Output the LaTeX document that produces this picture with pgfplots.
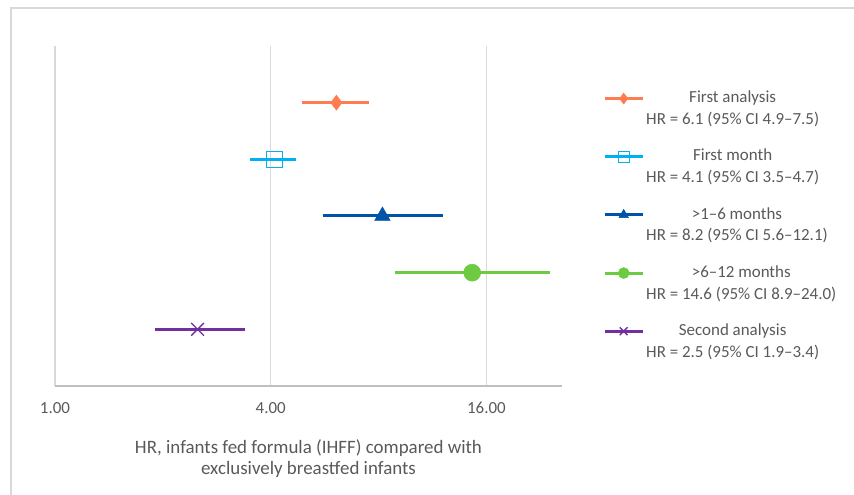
\documentclass[border=0pt]{standalone}
\usepackage{fontspec}
\setmainfont{Carlito}
\usepackage{pgfplots}
\pgfplotsset{compat=1.18}
\definecolor{txtgray}{HTML}{595959}
\definecolor{gridgray}{HTML}{D9D9D9}
\definecolor{axgray}{HTML}{BFBFBF}
\definecolor{framegray}{HTML}{D9D9D9}
\definecolor{corange}{HTML}{FF7C50}
\definecolor{clblue}{HTML}{00B0F0}
\definecolor{cdblue}{HTML}{0053A6}
\definecolor{cgreen}{HTML}{6CCB40}
\definecolor{cpurple}{HTML}{7030A0}
\begin{document}
\begin{tikzpicture}
\useasboundingbox (0bp,0bp) rectangle (854bp,495bp);
\draw[framegray, line width=1.2bp] (11bp,0bp) -- (11bp,487bp) -- (854bp,487bp);
\begin{axis}[
  at={(55bp,109bp)}, anchor=south west,
  scale only axis, width=507bp, height=340bp,
  xmode=log, log basis x=2,
  xmin=1, xmax=26, ymin=0, ymax=6,
  axis x line=bottom, axis y line=none,
  x axis line style={-, draw=axgray, line width=1.2bp},
  xtick={1,4,16}, xticklabels={1.00,4.00,16.00},
  xmajorgrids, major grid style={draw=gridgray, line width=1.2bp},
  major tick length=0pt, ytick=\empty,
  xticklabel style={font=\fontsize{17}{20}\selectfont, text=txtgray, anchor=center, yshift=-22bp},
  xlabel={HR, infants fed formula (IHFF) compared with\\exclusively breastfed infants},
  xlabel style={font=\fontsize{19}{21}\selectfont, text=txtgray, align=center, at={(axis description cs:0.5,0)}, anchor=north, yshift=-50bp},
  clip=false,
  legend cell align=left,
  legend style={at={(rel axis cs:1.075,0.88)}, anchor=north west, draw=none, fill=none,
    font=\fontsize{17}{20}\selectfont, text=txtgray, cells={align=center}, row sep=19bp},
  legend image code/.code={\draw[mark repeat=2,mark phase=2,mark size=5.5bp] plot coordinates {(0bp,10bp) (19bp,10bp) (38bp,10bp)};},
  every axis plot/.append style={line width=3bp, mark repeat=2, mark phase=2},
]
\addplot[corange, mark=diamond*, mark size=7.5bp, mark options={line width=0.5bp}] coordinates {(4.9,5) (6.1,5) (7.5,5)};
\addlegendentry{First analysis\\[2bp]HR = 6.1 (95\% CI 4.9–7.5)}
\addplot[clblue, mark=square, mark size=8bp, mark options={line width=1.3bp}] coordinates {(3.5,4) (4.1,4) (4.7,4)};
\addlegendentry{First month\\[2bp]HR = 4.1 (95\% CI 3.5–4.7)}
\addplot[cdblue, mark=triangle*, mark size=9bp, mark options={line width=0.5bp}] coordinates {(5.6,3) (8.2,3) (12.1,3)};
\addlegendentry{>1–6 months\\[2bp]HR = 8.2 (95\% CI 5.6–12.1)}
\addplot[cgreen, mark=*, mark size=8.5bp, mark options={line width=0.5bp}] coordinates {(8.9,2) (14.6,2) (24.0,2)};
\addlegendentry{>6–12 months\\[2bp]HR = 14.6 (95\% CI 8.9–24.0)}
\addplot[cpurple, mark=x, mark size=9bp, mark options={line width=1.4bp}] coordinates {(1.9,1) (2.5,1) (3.4,1)};
\addlegendentry{Second analysis\\[2bp]HR = 2.5 (95\% CI 1.9–3.4)}
\end{axis}
\end{tikzpicture}
\end{document}
